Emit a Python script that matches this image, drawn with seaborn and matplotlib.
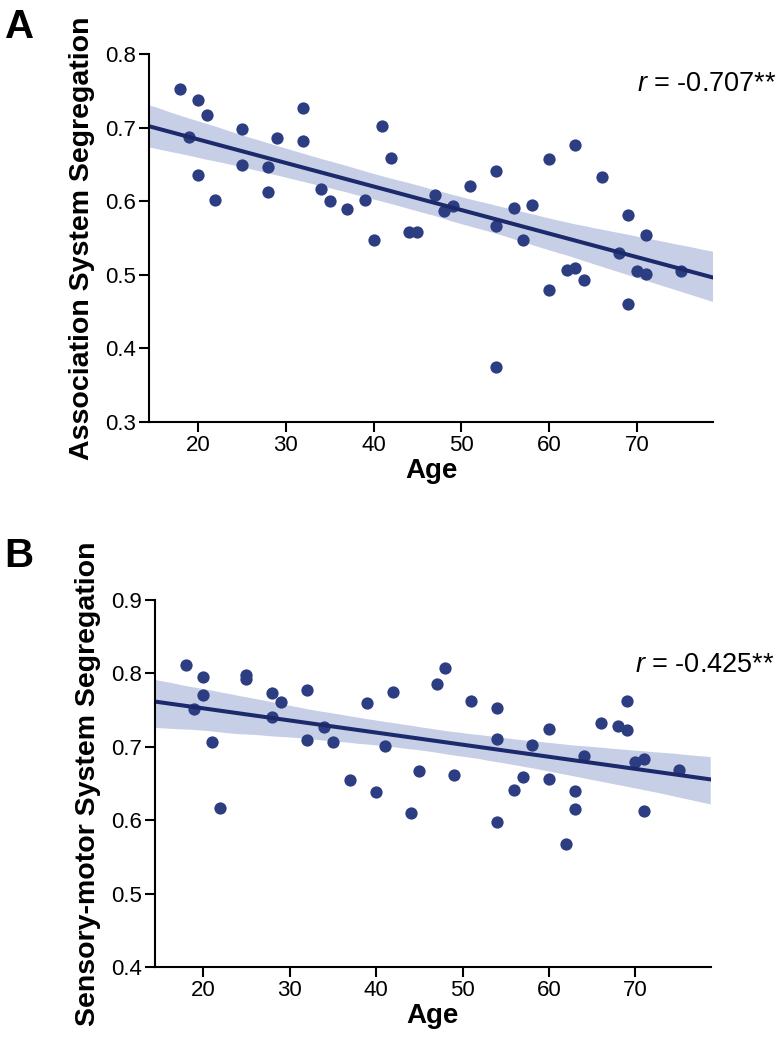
import numpy as np
import pandas as pd
import matplotlib
matplotlib.use("Agg")
import matplotlib.pyplot as plt
import seaborn as sns

# ages (same subjects in both panels)
age = [18, 19, 20, 20, 21, 22, 25, 25, 28, 28, 29, 32, 32, 34, 35, 37, 39, 40,
       41, 42, 44, 45, 47, 48, 49, 51, 54, 54, 54, 56, 57, 58, 60, 60, 62, 63,
       63, 64, 66, 68, 69, 69, 70, 71, 71, 75]

assoc_seg = [0.752, 0.687, 0.737, 0.636, 0.717, 0.602, 0.698, 0.649, 0.647, 0.612,
             0.686, 0.726, 0.682, 0.617, 0.600, 0.589, 0.602, 0.548, 0.702, 0.659,
             0.558, 0.558, 0.609, 0.587, 0.594, 0.620, 0.641, 0.566, 0.375, 0.591,
             0.547, 0.595, 0.658, 0.479, 0.506, 0.676, 0.509, 0.493, 0.633, 0.529,
             0.581, 0.461, 0.505, 0.554, 0.501, 0.505]

sensmot_seg = [0.811, 0.752, 0.795, 0.771, 0.706, 0.617, 0.798, 0.793, 0.773, 0.741,
               0.761, 0.777, 0.709, 0.727, 0.707, 0.655, 0.759, 0.639, 0.701, 0.775,
               0.610, 0.667, 0.786, 0.808, 0.661, 0.763, 0.753, 0.711, 0.598, 0.641,
               0.659, 0.703, 0.724, 0.656, 0.567, 0.640, 0.615, 0.687, 0.733, 0.728,
               0.762, 0.723, 0.679, 0.684, 0.612, 0.669]

r_labels = ["-0.707**", "-0.425**"]

sns.set_style("ticks")
plt.rcParams['font.family'] = ['Liberation Sans', 'DejaVu Sans']
plt.rcParams['mathtext.fontset'] = 'custom'
plt.rcParams['mathtext.rm'] = 'Liberation Sans'
plt.rcParams['mathtext.it'] = 'Liberation Sans:italic'
plt.rcParams['text.color'] = 'black'
plt.rcParams['axes.labelcolor'] = 'black'
plt.rcParams['xtick.color'] = 'black'
plt.rcParams['ytick.color'] = 'black'

pt_color = '#2c3d82'
line_color = '#1c2a6c'
band_color = '#c6cfe6'

fig = plt.figure(figsize=(7.83, 10.5), dpi=100)
ax1 = fig.add_axes([0.190, 0.598, 0.721, 0.3506])
ax2 = fig.add_axes([0.1976, 0.079, 0.7101, 0.3496])

df = pd.DataFrame({'Age': age, 'assoc': assoc_seg, 'sensmot': sensmot_seg})

panels = [
    (ax1, 'assoc', 'Association System Segregation', (0.3, 0.8), np.arange(0.3, 0.81, 0.1), 0.750, r_labels[0]),
    (ax2, 'sensmot', 'Sensory-motor System Segregation', (0.4, 0.9), np.arange(0.4, 0.91, 0.1), 0.802, r_labels[1]),
]

for ax, col, ylab, ylim, yticks, ry, rlab in panels:
    ax.set_xlim(14.4, 78.7)
    ax.set_ylim(*ylim)
    sns.regplot(x='Age', y=col, data=df, ax=ax, truncate=False, seed=0,
                color=line_color,
                scatter_kws={'s': 78, 'color': pt_color, 'alpha': 1, 'linewidths': 0},
                line_kws={'lw': 2.9, 'color': line_color})
    # lighter confidence band
    for c in ax.collections[1:]:
        c.set_facecolor(band_color)
        c.set_alpha(1)
        c.set_edgecolor('none')
        c.set_zorder(0.5)
    ax.set_xlim(14.4, 78.7)
    ax.set_ylim(*ylim)
    ax.set_xticks([20, 30, 40, 50, 60, 70])
    ax.set_yticks(yticks)
    ax.set_yticklabels([f'{v:.1f}' for v in yticks])
    ax.tick_params(labelsize=16, length=7, width=1.5, pad=2.5, color='black')
    for s in ['left', 'bottom']:
        ax.spines[s].set_linewidth(1.5)
        ax.spines[s].set_color('black')
    sns.despine(ax=ax)
    ax.set_xlabel('Age', fontsize=20, fontweight='bold', labelpad=1)
    ax.set_ylabel(ylab, fontsize=20.5, fontweight='bold', labelpad=7)
    ax.text(70.0, ry, '$r$ = ' + rlab, fontsize=19.5, ha='left', va='baseline', clip_on=False)

fig.text(0.006, 1 - 38 / 1050, 'A', fontsize=29, fontweight='bold', va='baseline')
fig.text(0.006, 1 - 567 / 1050, 'B', fontsize=29, fontweight='bold', va='baseline')

fig.savefig('out.png', dpi=100)
